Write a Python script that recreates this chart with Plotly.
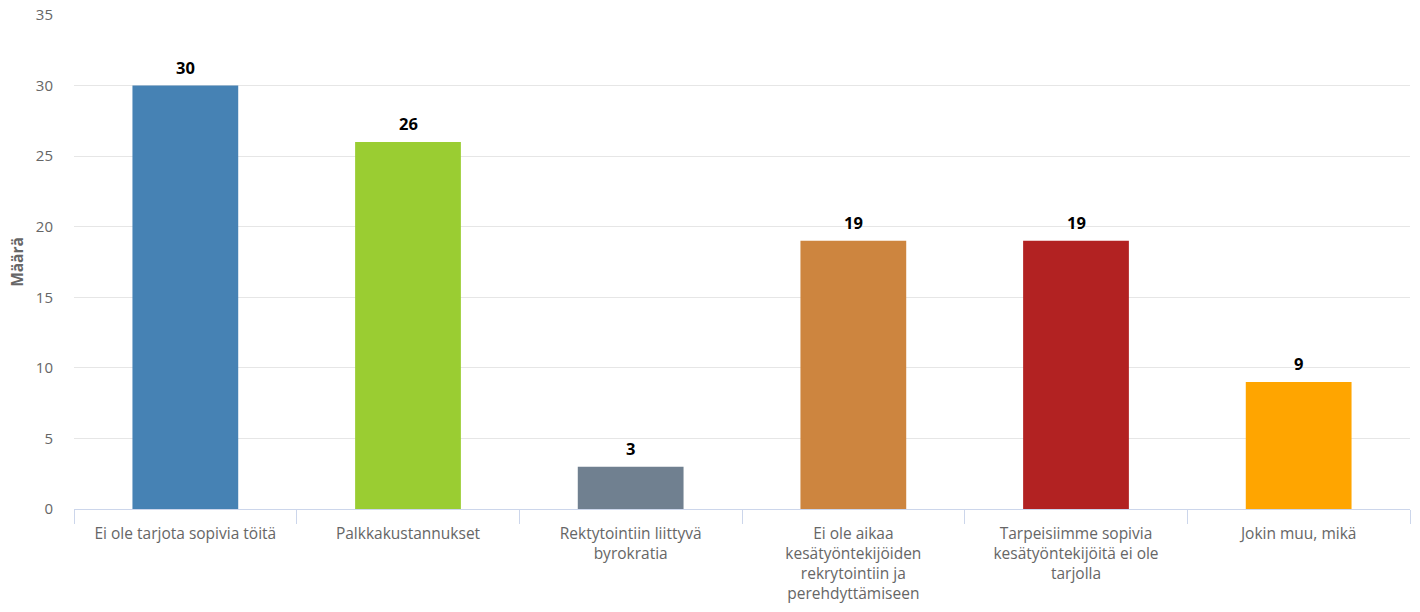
import plotly.graph_objects as go

categories = [
    "Ei ole tarjota sopivia töitä",
    "Palkkakustannukset",
    "Rektytointiin liittyvä<br>byrokratia",
    "Ei ole aikaa<br>kesätyöntekijöiden<br>rekrytointiin ja<br>perehdyttämiseen",
    "Tarpeisiimme sopivia<br>kesätyöntekijöitä ei ole<br>tarjolla",
    "Jokin muu, mikä",
]
values = [30, 26, 3, 19, 19, 9]
bar_colors = ["#4682B4", "#9ACD32", "#708090", "#CD853F", "#B22222", "#FFA500"]
y_ticks = [0, 5, 10, 15, 20, 25, 30, 35]

FONT = "Open Sans"

fig = go.Figure(
    go.Bar(
        x=categories,
        y=values,
        marker=dict(color=bar_colors, line=dict(width=0)),
        hoverinfo="x+y",
    )
)

# value labels above each bar
for cat, val in zip(categories, values):
    fig.add_annotation(
        x=cat, y=val, text=f"<b>{val}</b>", showarrow=False,
        yanchor="bottom", yshift=5,
        font=dict(family=FONT, size=16.5, color="#000000"),
    )

fig.update_layout(
    width=1420, height=612,
    margin=dict(l=74, r=10, t=15, b=103),
    paper_bgcolor="white", plot_bgcolor="white",
    bargap=0.525,
    showlegend=False,
    font=dict(family=FONT, size=15, color="#666666"),
)

fig.update_xaxes(
    showline=True, linecolor="#ccd6eb", linewidth=1,
    ticks="outside", tickson="boundaries", ticklen=14, tickcolor="#ccd6eb",
    ticklabelstandoff=10,
    tickfont=dict(family=FONT, size=15.5, color="#666666"),
    showgrid=False, automargin=False,
)

fig.update_yaxes(
    range=[0, 35], tickvals=y_ticks,
    showgrid=True, gridcolor="#e6e6e6", gridwidth=1,
    zeroline=False, showline=False,
    ticks="outside", ticklen=17, tickcolor="rgba(0,0,0,0)",
    tickfont=dict(family=FONT, size=15, color="#666666"),
    automargin=False,
    title=dict(text="<b>Määrä</b>", font=dict(family=FONT, size=15.5, color="#666666"), standoff=8),
)

fig.write_html("out.html")
